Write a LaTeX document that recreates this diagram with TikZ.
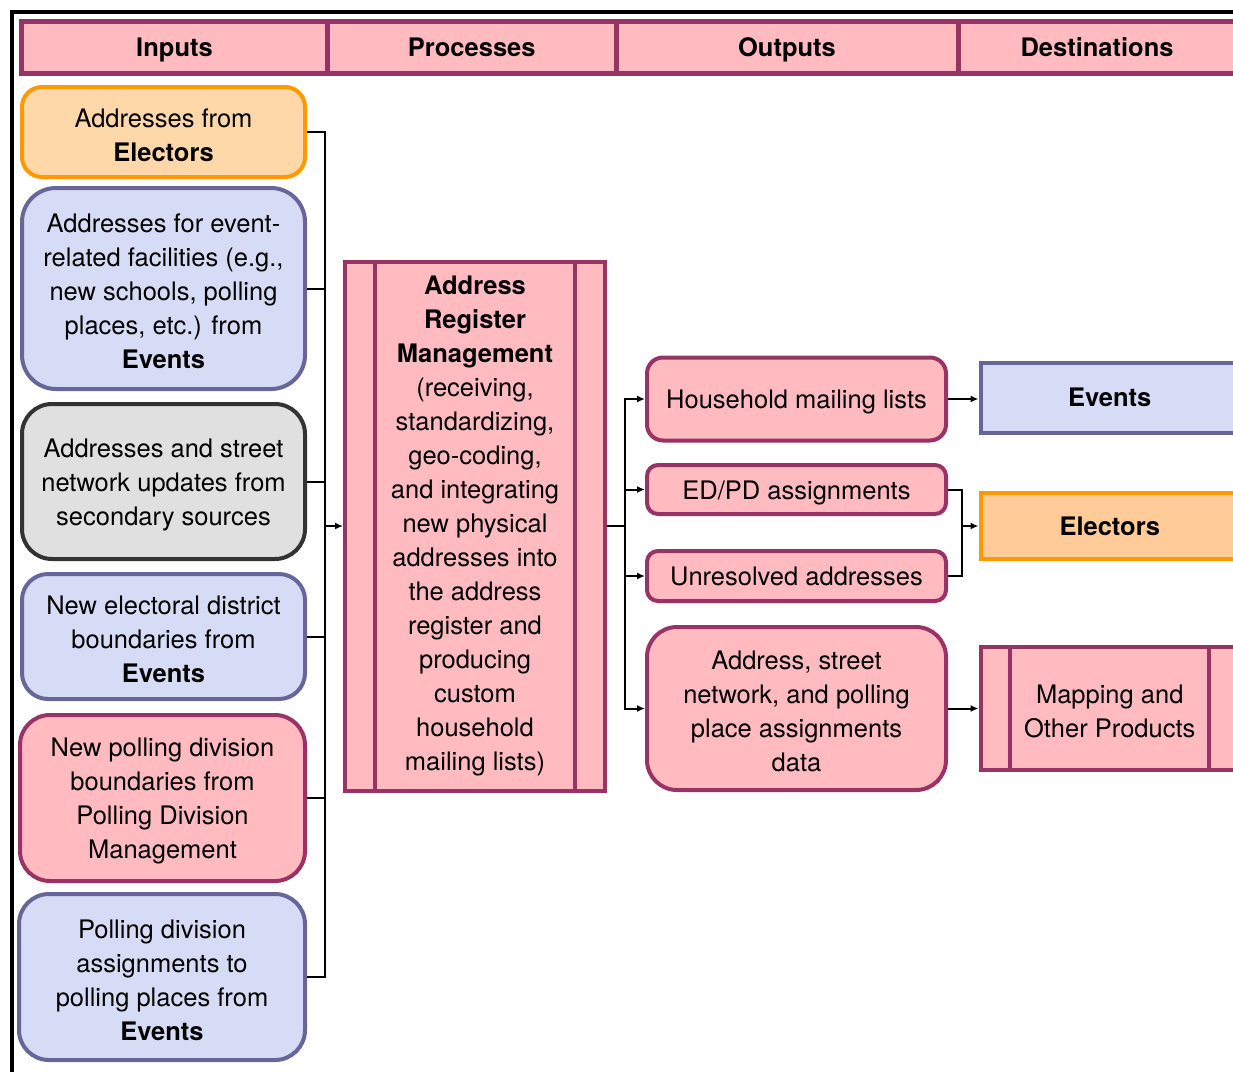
\documentclass[tikz,border=0pt]{standalone}
\usepackage{fontspec}
\setmainfont{TeX Gyre Heros}
\usetikzlibrary{arrows.meta}

\definecolor{maroon}{HTML}{993366}
\definecolor{pinkfill}{HTML}{FFBBBF}
\definecolor{orangeline}{HTML}{FF9900}
\definecolor{peachfill}{HTML}{FFD8AA}
\definecolor{peachdark}{HTML}{FFCC99}
\definecolor{slate}{HTML}{666699}
\definecolor{lavender}{HTML}{D6DCF5}
\definecolor{darkline}{HTML}{333333}
\definecolor{grayfill}{HTML}{E0E0E0}

% a taller first line sets the text block a little lower in its box
\newcommand{\lowstrut}{\rule{0pt}{25pt}}

\tikzset{
  txt/.style={font=\fontsize{25.5}{34}\selectfont, align=center, inner sep=0pt},
  boxbase/.style={txt, draw, line width=4pt, rectangle},
  pinkbox/.style={boxbase, draw=maroon, fill=pinkfill},
  eventbox/.style={boxbase, draw=slate, fill=lavender},
  electbox/.style={boxbase, draw=orangeline, fill=peachfill},
  graybox/.style={boxbase, draw=darkline, fill=grayfill},
  headcell/.style={font=\fontsize{25.5}{34}\selectfont\bfseries, inner sep=0pt,
    text height=21pt, text depth=4pt, draw=maroon, fill=pinkfill,
    line width=5pt, minimum height=52pt},
  link/.style={line width=2pt, black},
  arrowlink/.style={link, -{Latex[length=8pt,width=7pt]}},
  inner line/.style={draw=maroon, line width=4pt}
}

\begin{document}
\begin{tikzpicture}[x=1pt,y=-1pt]
\useasboundingbox (0,0) rectangle (1233,1071);
\clip (0,0) rectangle (1233,1071);
\fill[white] (0,0) rectangle (1233,1071);

% outer frame
\draw[line width=4pt] (12,12) rectangle (1300,1100);

% column headers
\node[headcell, minimum width=306pt]   (hin)   at (174.5,47.5) {Inputs};
\node[headcell, minimum width=288.5pt] (hproc) at (471.75,47.5) {Processes};
\node[headcell, minimum width=342pt]   (hout)  at (787,47.5) {Outputs};
\node[headcell, minimum width=310pt]   (hdst)  at (1113,47.5) {\hspace*{-32pt}Destinations};

% inputs
\node[electbox, rounded corners=20pt, minimum width=283pt, minimum height=90pt] (in1) at (163.5,132)
  {\lowstrut Addresses from\\\textbf{Electors}};
\node[eventbox, rounded corners=34pt, minimum width=283pt, minimum height=201pt] (in2) at (163.5,288.5)
  {\lowstrut Addresses for event-\\related facilities (e.g.,\\new schools, polling\\places, etc.) from\\\textbf{Events}};
\node[graybox, rounded corners=30pt, minimum width=283pt, minimum height=155pt] (in3) at (163.5,481.5)
  {\lowstrut Addresses and street\\network updates from\\secondary sources};
\node[eventbox, rounded corners=26pt, minimum width=283pt, minimum height=125pt] (in4) at (163.5,636.5)
  {\lowstrut New electoral district\\boundaries from\\\textbf{Events}};
\node[pinkbox, rounded corners=30pt, minimum width=285pt, minimum height=166pt] (in5) at (162.5,798)
  {\lowstrut New polling division\\boundaries from\\Polling Division\\Management};
\node[eventbox, rounded corners=30pt, minimum width=286pt, minimum height=166pt] (in6) at (162,977)
  {\lowstrut Polling division\\assignments to\\polling places from\\\textbf{Events}};

% process
\node[pinkbox, minimum width=260pt, minimum height=529pt] (proc) at (475,526)
  {\textbf{Address}\\\textbf{Register}\\\textbf{Management}\\(receiving,\\standardizing,\\geo-coding,\\and integrating\\new physical\\addresses into\\the address\\register and\\producing\\custom\\household\\mailing lists)};
\draw[inner line] ([xshift=31.5pt]proc.north west) -- ([xshift=31.5pt]proc.south west);
\draw[inner line] ([xshift=-32pt]proc.north east) -- ([xshift=-32pt]proc.south east);

% outputs
\node[pinkbox, rounded corners=16pt, minimum width=299pt, minimum height=83pt] (out1) at (796.5,399)
  {\lowstrut Household mailing lists};
\node[pinkbox, rounded corners=11pt, minimum width=299pt, minimum height=49pt] (out2) at (796.5,489.5)
  {\lowstrut ED/PD assignments};
\node[pinkbox, rounded corners=11pt, minimum width=299pt, minimum height=50pt] (out3) at (796.5,576)
  {Unresolved addresses};
\node[pinkbox, rounded corners=30pt, minimum width=299pt, minimum height=163pt] (out4) at (796.5,708.5)
  {\lowstrut Address, street\\network, and polling\\place assignments\\data};

% destinations
\node[eventbox, minimum width=258.5pt, minimum height=69.5pt] (dst1) at (1109.75,397.75)
  {\textbf{Events}};
\node[electbox, fill=peachdark, minimum width=258.5pt, minimum height=66pt] (dst2) at (1109.75,526)
  {\textbf{Electors}};
\node[pinkbox, minimum width=258.5pt, minimum height=123pt] (dst3) at (1109.75,708)
  {\lowstrut Mapping and\\Other Products};
\draw[inner line] ([xshift=31pt]dst3.north west) -- ([xshift=31pt]dst3.south west);
\draw[inner line] ([xshift=-32pt]dst3.north east) -- ([xshift=-32pt]dst3.south east);

% input collector
\coordinate (tin) at (325,526);
\foreach \n in {in1,in2,in3,in4,in5,in6}
  \draw[link] (\n.east) -| (tin);
\draw[arrowlink] (tin) -- (proc.west);

% output distributor
\coordinate (tout) at (625,526);
\draw[link] (proc.east) -- (tout);
\foreach \n in {out1,out2,out3,out4}
  \draw[arrowlink] (tout) |- (\n.west);

% to destinations
\draw[arrowlink] (out1.east) -- (out1.east -| dst1.west);
\coordinate (tel) at (962,526);
\draw[link] (out2.east) -| (tel);
\draw[link] (out3.east) -| (tel);
\draw[arrowlink] (tel) -- (dst2.west);
\draw[arrowlink] (out4.east) -- (out4.east -| dst3.west);
\end{tikzpicture}
\end{document}
